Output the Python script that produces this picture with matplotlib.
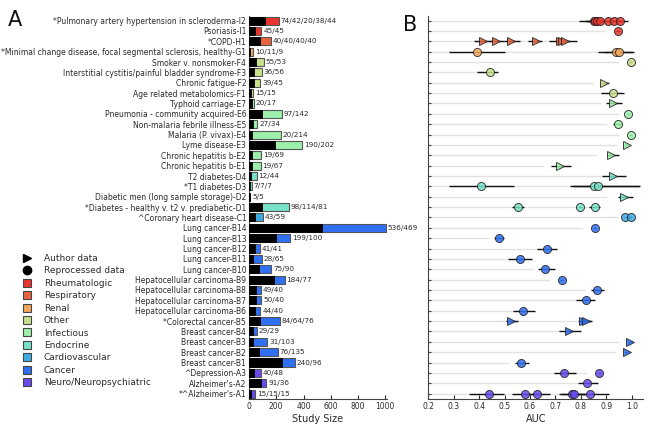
import matplotlib
matplotlib.use("Agg")
import matplotlib.pyplot as plt
from matplotlib.lines import Line2D
import numpy as np

plt.rcParams['font.family'] = ['DejaVu Sans']

# ---------------- data ----------------
names = [
    "*Pulmonary artery hypertension in scleroderma-I2", "Psoriasis-I1", "*COPD-H1",
    "*Minimal change disease, focal segmental sclerosis, healthy-G1",
    "Smoker v. nonsmoker-F4", "Interstitial cystitis/painful bladder syndrome-F3",
    "Chronic fatigue-F2", "Age related metabolomics-F1", "Typhoid carriage-E7",
    "Pneumonia - community acquired-E6", "Non-malaria febrile illness-E5",
    "Malaria (P. vivax)-E4", "Lyme disease-E3", "Chronic hepatitis b-E2",
    "Chronic hepatitis b-E1", "T2 diabetes-D4", "*T1 diabetes-D3",
    "Diabetic men (long sample storage)-D2", "*Diabetes - healthy v. t2 v. prediabetic-D1",
    "^Coronary heart disease-C1", "Lung cancer-B14", "Lung cancer-B13", "Lung cancer-B12",
    "Lung cancer-B11", "Lung cancer-B10", "Hepatocellular carcinoma-B9",
    "Hepatocellular carcinoma-B8", "Hepatocellular carcinoma-B7",
    "Hepatocellular carcinoma-B6", "*Colorectal cancer-B5", "Breast cancer-B4",
    "Breast cancer-B3", "Breast cancer-B2", "Breast cancer-B1", "^Depression-A3",
    "Alzheimer's-A2", "*^Alzheimer's-A1",
]
count_labels = [
    "74/42/20/38/44", "45/45", "40/40/40/40", "10/11/9", "55/53", "36/56", "39/45",
    "15/15", "20/17", "97/142", "27/34", "20/214", "190/202", "19/69", "19/67",
    "12/44", "7/7/7", "5/5", "98/114/81", "43/59", "536/469", "199/100", "41/41",
    "28/65", "75/90", "184/77", "49/40", "50/40", "44/40", "84/64/76", "29/29",
    "31/103", "76/135", "240/96", "40/48", "91/36", "15/15/15",
]
case_n = [116, 45, 80, 10, 55, 36, 39, 15, 20, 97, 27, 20, 190, 19, 19, 12, 7, 5, 98,
          43, 536, 199, 41, 28, 75, 184, 49, 50, 44, 84, 29, 31, 76, 240, 40, 91, 15]
row_cat = [0, 0, 1, 2, 3, 3, 3, 3, 4, 4, 4, 4, 4, 4, 4, 5, 5, 5, 5, 6,
           7, 7, 7, 7, 7, 7, 7, 7, 7, 7, 7, 7, 7, 7, 8, 8, 8]
categories = ["Rheumatologic", "Respiratory", "Renal", "Other", "Infectious",
              "Endocrine", "Cardiovascular", "Cancer", "Neuro/Neuropsychiatric"]
cat_colors = ["#e8342c", "#e8643e", "#f2a85c", "#c9e08c", "#9cf0aa",
              "#78e2c8", "#3eaae2", "#2f6ff2", "#6a4af0"]

# panel B: light guide line end per row
guide_end = [0.85, 0.894, 0.74, 0.90, 0.945, 0.42, 0.847, 0.88, 0.88, 0.945, 0.898,
             0.945, 0.936, 0.858, 0.651, 0.882, 0.90, 0.90, 0.83, 0.945, 0.803, 0.435,
             0.63, 0.515, 0.612, 0.675, 0.815, 0.78, 0.532, 0.78, 0.713, 0.945, 0.935,
             0.514, 0.821, 0.79, 0.80]

# panel B points: row index, AUC, lower err, upper err, author(1)/reprocessed(0)
pt_row = [0, 0, 0, 0, 0, 0, 0,
          1,
          2, 2, 2, 2, 2, 2, 2,
          3, 3, 3,
          4, 5, 6, 7, 8, 9, 10, 11, 12, 13, 14, 15,
          16, 16, 16,
          17,
          18, 18, 18,
          19, 19,
          20, 21, 22, 23, 24, 25, 26, 27, 28,
          29, 29, 29,
          30, 31, 32, 33,
          34, 34,
          35,
          36, 36, 36, 36, 36, 36]
pt_auc = [0.85, 0.857, 0.865, 0.875, 0.905, 0.93, 0.955,
          0.944,
          0.416, 0.468, 0.527, 0.622, 0.716, 0.727, 0.736,
          0.39, 0.939, 0.949,
          0.995, 0.443, 0.89, 0.928, 0.925, 0.987, 0.944, 0.995, 0.98, 0.919, 0.716, 0.925,
          0.409, 0.851, 0.867,
          0.969,
          0.551, 0.795, 0.854,
          0.975, 0.995,
          0.854, 0.478, 0.667, 0.561, 0.66, 0.724, 0.865, 0.818, 0.573,
          0.524, 0.81, 0.82,
          0.752, 0.991, 0.98, 0.566,
          0.735, 0.872,
          0.825,
          0.439, 0.579, 0.629, 0.765, 0.771, 0.834]
pt_elo = [0.058, 0.04, 0.04, 0.04, 0.03, 0.03, 0.03,
          0.008,
          0.036, 0.03, 0.03, 0.03, 0.04, 0.03, 0.03,
          0.109, 0.07, 0.06,
          0.005, 0.053, 0.012, 0.048, 0.025, 0.005, 0.018, 0.005, 0.005, 0.015, 0.035, 0.043,
          0.127, 0.093, 0.10,
          0.024,
          0.021, 0.008, 0.022,
          0.005, 0.005,
          0.005, 0.02, 0.039, 0.046, 0.03, 0.005, 0.025, 0.038, 0.041,
          0.02, 0.02, 0.02,
          0.039, 0.005, 0.005, 0.026,
          0.04, 0.005,
          0.035,
          0.078, 0.05, 0.05, 0.05, 0.05, 0.05]
pt_ehi = [0.03, 0.03, 0.03, 0.03, 0.03, 0.03, 0.029,
          0.008,
          0.03, 0.03, 0.035, 0.025, 0.03, 0.03, 0.048,
          0.11, 0.06, 0.059,
          0.005, 0.032, 0.022, 0.042, 0.035, 0.005, 0.018, 0.005, 0.005, 0.029, 0.046, 0.052,
          0.127, 0.18, 0.163,
          0.037,
          0.026, 0.008, 0.022,
          0.005, 0.005,
          0.005, 0.02, 0.039, 0.048, 0.037, 0.005, 0.025, 0.039, 0.047,
          0.028, 0.03, 0.025,
          0.048, 0.005, 0.005, 0.028,
          0.046, 0.005,
          0.041,
          0.06, 0.05, 0.05, 0.05, 0.05, 0.075]
pt_author = [0, 0, 0, 0, 0, 0, 0,
             0,
             1, 1, 1, 1, 1, 1, 1,
             0, 0, 0,
             0, 0, 1, 0, 1, 0, 0, 0, 1, 1, 1, 1,
             0, 0, 0,
             1,
             0, 0, 0,
             0, 0,
             0, 0, 0, 0, 0, 0, 0, 0, 0,
             1, 1, 1,
             1, 1, 1, 0,
             0, 0,
             0,
             0, 0, 0, 0, 0, 0]

# ---------------- figure ----------------
n = len(names)
ypos = np.arange(n)[::-1]          # top row at n-1
fig = plt.figure(figsize=(6.59, 4.25), dpi=100)
axA = fig.add_axes([0.3778, 0.0605, 0.2090, 0.902])
axB = fig.add_axes([0.6499, 0.0605, 0.3262, 0.902])

txt = "#2a2a2a"
fs = 5.5

# panel A
totals = [sum(int(v) for v in s.split("/")) for s in count_labels]
for i in range(n):
    col = cat_colors[row_cat[i]]
    axA.barh(ypos[i], totals[i], height=0.78, color=col, edgecolor="#555555",
             linewidth=0.8, zorder=2)
    axA.barh(ypos[i], case_n[i], height=0.78, color="black", edgecolor="black",
             linewidth=0.6, zorder=3)
    axA.text(totals[i] + 14, ypos[i], count_labels[i], va="center", ha="left",
             fontsize=5.2, color=txt)
axA.set_xlim(0, 1010)
axA.set_ylim(-0.55, n - 0.55)
axA.set_yticks(ypos)
axA.set_yticklabels(names, fontsize=fs, color=txt)
axA.set_xticks([0, 200, 400, 600, 800, 1000])
axA.tick_params(axis="y", length=0, pad=2)
axA.tick_params(axis="x", direction="in", length=3, labelsize=fs, colors=txt, pad=2)
axA.set_xlabel("Study Size", fontsize=7, color=txt, labelpad=2)
for s in ["top", "right"]:
    axA.spines[s].set_visible(False)
for s in ["left", "bottom"]:
    axA.spines[s].set_color("#444444")

# panel B
for i in range(n):
    axB.plot([0.2, guide_end[i]], [ypos[i], ypos[i]], color="#e2e2e2", lw=1.0, zorder=1)
for k in range(len(pt_row)):
    r = pt_row[k]
    y = ypos[r]
    axB.errorbar(pt_auc[k], y, xerr=[[pt_elo[k]], [pt_ehi[k]]], fmt="none",
                 ecolor="#111111", elinewidth=1.0, capsize=0, zorder=2)
for k in range(len(pt_row)):
    r = pt_row[k]
    y = ypos[r]
    mk = ">" if pt_author[k] else "o"
    axB.plot(pt_auc[k], y, marker=mk, ms=5.8, mfc=cat_colors[row_cat[r]],
             mec="#222222", mew=0.7, alpha=0.85, linestyle="none", zorder=3)
axB.set_xlim(0.2, 1.045)
axB.set_ylim(-0.55, n - 0.55)
axB.set_yticks(ypos)
axB.set_yticklabels([])
axB.set_xticks(np.round(np.arange(0.2, 1.01, 0.1), 1))
axB.set_xticklabels([f"{v:.1f}" for v in np.arange(0.2, 1.01, 0.1)])
axB.tick_params(axis="y", direction="in", length=2.5, color="#444444")
axB.tick_params(axis="x", direction="in", length=3, labelsize=fs, colors=txt, pad=2)
axB.set_xlabel("AUC", fontsize=7, color=txt, labelpad=2)
for s in ["top", "right"]:
    axB.spines[s].set_visible(False)
for s in ["left", "bottom"]:
    axB.spines[s].set_color("#444444")

# panel letters
fig.text(0.012, 0.952, "A", fontsize=15, va="center", ha="left", color="#111111")
fig.text(0.612, 0.942, "B", fontsize=15, va="center", ha="left", color="#111111")

# legend
handles = [Line2D([], [], marker=">", color="black", ls="none", ms=6),
           Line2D([], [], marker="o", color="black", ls="none", ms=6)]
labels = ["Author data", "Reprocessed data"]
for c, lab in zip(cat_colors, categories):
    handles.append(Line2D([], [], marker="s", mfc=c, mec="#444444", mew=0.8,
                          ls="none", ms=6))
    labels.append(lab)
fig.legend(handles, labels, loc="upper left", bbox_to_anchor=(0.028, 0.413),
           frameon=False, fontsize=6.5, handlelength=1.0, handletextpad=1.3,
           labelspacing=0.38, borderpad=0, labelcolor=txt)

fig.savefig("out.png", dpi=100)
